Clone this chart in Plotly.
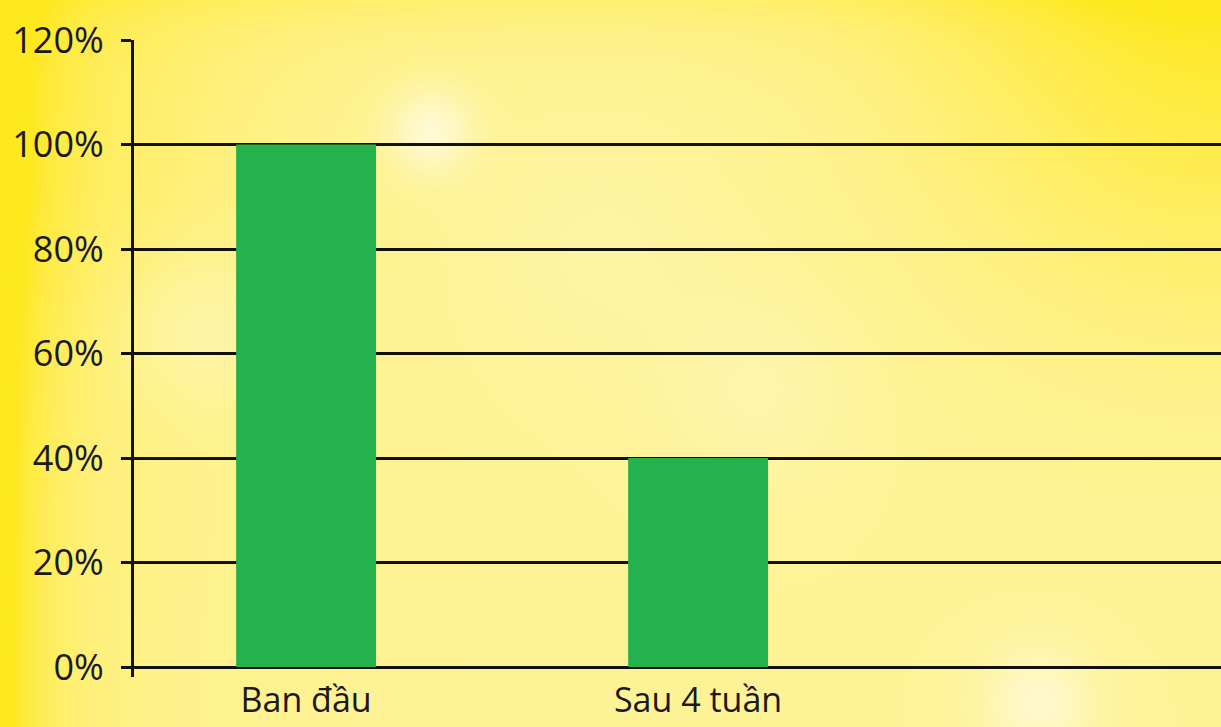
import base64, struct, zlib
import numpy as np
import plotly.graph_objects as go

# ---- data ----
categories = ["Ban đầu", "Sau 4 tuần"]
values = [100, 40]
tick_values = [0, 20, 40, 60, 80, 100, 120]
tick_labels = ["0%", "20%", "40%", "60%", "80%", "100%", "120%"]

# ---- background gradient image (decorative) ----
W, H = 1221, 727
sw, sh = 305, 182
X, Y = np.meshgrid(np.linspace(0, W, sw), np.linspace(0, H, sh))
pale = np.array([254, 243, 152], float)
bright = np.array([255, 232, 30], float)
w = (np.exp(-X / 35) * 0.95 + np.exp(-X / 160) * 0.3
     + np.exp(-Y / 40) * 0.3
     + np.exp(-((X - W) ** 2 + Y ** 2) / (2 * 200 ** 2)) * 0.8
     + np.exp(-(X ** 2 + (Y - 120) ** 2) / (2 * 170 ** 2)) * 0.3)
w = np.clip(w, 0, 1)[..., None]
img = pale * (1 - w) + bright * w
white = np.array([255, 252, 228], float)
for gx, gy, s, a in [(430, 130, 30, 0.8), (1040, 705, 40, 0.7), (195, 330, 55, 0.35),
                     (760, 390, 70, 0.25), (600, 250, 90, 0.15)]:
    g = (np.exp(-((X - gx) ** 2 + (Y - gy) ** 2) / (2 * s ** 2)) * a)[..., None]
    img = img * (1 - g) + white * g
img = np.clip(img, 0, 255).astype(np.uint8)


def to_png(arr):
    h, w_ = arr.shape[:2]
    raw = b"".join(b"\x00" + arr[i].tobytes() for i in range(h))
    def chunk(t, d):
        c = struct.pack(">I", len(d)) + t + d
        return c + struct.pack(">I", zlib.crc32(t + d) & 0xffffffff)
    return (b"\x89PNG\r\n\x1a\n" + chunk(b"IHDR", struct.pack(">IIBBBBB", w_, h, 8, 2, 0, 0, 0))
            + chunk(b"IDAT", zlib.compress(raw, 9)) + chunk(b"IEND", b""))


bg_uri = "data:image/png;base64," + base64.b64encode(to_png(img)).decode()

ml, mr, mt, mb = 134, 0, 40, 50
pw, ph = W - ml - mr, H - mt - mb

fig = go.Figure(go.Bar(x=categories, y=values, marker_color="#25b14c",
                       marker_line_width=0, width=0.357))

fig.update_layout(
    width=W, height=H,
    margin=dict(l=ml, r=mr, t=mt, b=mb, pad=0),
    paper_bgcolor="#fdf29a", plot_bgcolor="rgba(0,0,0,0)",
    font=dict(family="Open Sans", size=36, color="#1a1a1a"),
    showlegend=False,
    images=[dict(source=bg_uri, xref="paper", yref="paper",
                 x=-ml / pw, y=1 + mt / ph, sizex=W / pw, sizey=H / ph,
                 sizing="stretch", layer="below", xanchor="left", yanchor="top")],
    xaxis=dict(range=[-0.439, 2.334], showgrid=False, showline=False,
               zeroline=False, ticks="", ticklabelstandoff=0, automargin=False,
               tickfont=dict(size=34)),
    yaxis=dict(range=[-1.9, 120], tickvals=tick_values, ticktext=tick_labels,
               showgrid=True, gridcolor="#111111", gridwidth=2.5,
               showline=True, linecolor="#111111", linewidth=3,
               zeroline=False, ticks="outside", ticklen=10, tickwidth=2.5,
               tickcolor="#111111", ticklabelstandoff=10, automargin=False),
)

fig.write_html("out.html", config={"displayModeBar": False},
               post_script="document.body.style.margin='0';document.body.style.overflow='hidden';")
